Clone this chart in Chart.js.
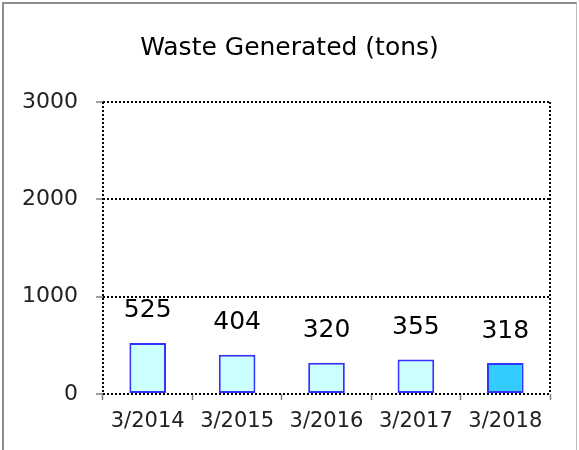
<!DOCTYPE html>
<html>
<head>
<meta charset="utf-8">
<script src="https://cdn.jsdelivr.net/npm/chart.js@4/dist/chart.umd.min.js"></script>
<style>
  html, body { margin: 0; padding: 0; background: #fff; }
  #wrap { position: relative; width: 579px; height: 450px; }
  #frame { position: absolute; left: 2px; top: 2px; width: 575px; height: 460px;
           border-left: 2px solid #8c8c8c; border-top: 2px solid #8c8c8c; border-right: 1px solid #bdbdbd; box-sizing: border-box; pointer-events: none; }
  canvas { position: absolute; left: 0; top: 0; }
</style>
</head>
<body>
<div id="wrap">
  <canvas id="c" width="579" height="450"></canvas>
  <div id="frame"></div>
</div>
<script>
const categories = ['3/2014', '3/2015', '3/2016', '3/2017', '3/2018'];
const wasteTons = [525, 404, 320, 355, 318];
const yTicks = [0, 1000, 2000, 3000];
const chartTitle = 'Waste Generated (tons)';

const FONT = "'DejaVu Sans', Verdana, sans-serif";

const frameAndLabels = {
  id: 'frameAndLabels',
  afterDatasetsDraw(chart) {
    const ctx = chart.ctx;
    const a = chart.chartArea;
    ctx.save();
    ctx.strokeStyle = '#000';
    ctx.lineWidth = 2;
    ctx.setLineDash([2, 2]);
    ctx.beginPath();
    ctx.moveTo(a.left, a.top); ctx.lineTo(a.left, a.bottom);
    ctx.moveTo(a.right, a.top); ctx.lineTo(a.right, a.bottom);
    ctx.stroke();
    ctx.setLineDash([]);
    const meta = chart.getDatasetMeta(0);
    ctx.fillStyle = '#000';
    ctx.font = '25px ' + FONT;
    ctx.textAlign = 'center';
    ctx.textBaseline = 'middle';
    meta.data.forEach((bar, i) => {
      ctx.fillText(String(chart.data.datasets[0].data[i]), bar.x, bar.y - 32);
    });
    ctx.restore();
  }
};

new Chart(document.getElementById('c'), {
  type: 'bar',
  data: {
    labels: categories,
    datasets: [{
      data: wasteTons,
      backgroundColor: wasteTons.map((v, i) => i === wasteTons.length - 1 ? '#33CCFF' : '#CCFFFF'),
      borderColor: '#3333FF',
      borderWidth: 2,
      borderSkipped: false,
      barPercentage: 0.41,
      categoryPercentage: 1.0
    }]
  },
  options: {
    responsive: false,
    animation: false,
    devicePixelRatio: 1,
    layout: { padding: 0 },
    plugins: {
      legend: { display: false },
      tooltip: { enabled: false },
      title: {
        display: true,
        text: chartTitle,
        color: '#000',
        font: { family: FONT, size: 25, weight: 'normal', lineHeight: 1.2 },
        padding: { top: 33, bottom: 39 }
      }
    },
    scales: {
      x: {
        grid: { display: true, drawOnChartArea: false, drawTicks: true, tickLength: 6, tickColor: '#808080', tickWidth: 1.5, offset: true },
        border: { display: false },
        ticks: { color: '#222', font: { family: FONT, size: 21 }, padding: 9, maxRotation: 0, autoSkip: false },
        afterFit(s) { s.height = 56; }
      },
      y: {
        min: 0, max: 3000,
        afterBuildTicks(s) { s.ticks = yTicks.map(v => ({ value: v })); },
        grid: { color: '#000', lineWidth: 2, drawTicks: true, tickLength: 7, tickColor: '#808080', tickWidth: 1.5, tickBorderDash: [] },
        border: { display: false, dash: [2, 2] },
        ticks: { color: '#222', font: { family: FONT, size: 22 }, padding: 18, callback: v => String(v) },
        afterFit(s) { s.width = 103; }
      },
      yRight: {
        position: 'right',
        display: true,
        grid: { display: false },
        border: { display: false },
        ticks: { display: false },
        afterFit(s) { s.width = 29; }
      }
    }
  },
  plugins: [frameAndLabels]
});
</script>
</body>
</html>
